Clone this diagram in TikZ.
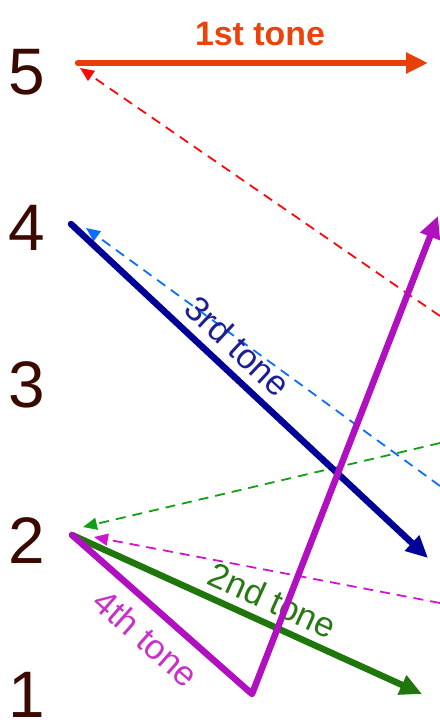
\documentclass[tikz,border=0pt]{standalone}
\usepackage{fontspec}
\setmainfont{Liberation Sans}
\usepackage{tikz}
\usetikzlibrary{arrows.meta}

\definecolor{numcol}{RGB}{58,10,0}
\definecolor{firstcol}{RGB}{232,62,10}
\definecolor{firsttext}{RGB}{234,68,12}
\definecolor{reddash}{RGB}{250,10,10}
\definecolor{bluecol}{RGB}{0,0,150}
\definecolor{bluetext}{RGB}{30,30,150}
\definecolor{bluedash}{RGB}{10,110,255}
\definecolor{greencol}{RGB}{30,118,12}
\definecolor{greentext}{RGB}{40,120,20}
\definecolor{greendash}{RGB}{20,160,20}
\definecolor{purplecol}{RGB}{176,16,192}
\definecolor{purpletext}{RGB}{200,50,200}
\definecolor{magdash}{RGB}{210,20,210}

\tikzset{
	levelnum/.style={text=numcol, font=\fontsize{66}{70}\selectfont, inner sep=0pt},
	toneline/.style={line width=6.5bp, line cap=round, line join=round,
		-{Triangle[length=22bp,width=20bp]}},
	echoline/.style={line width=1.8bp, dash pattern=on 10bp off 7bp,
		-{Triangle[length=14bp,width=12bp]}},
	tonelabel/.style={font=\fontsize{35}{38}\selectfont, inner sep=0pt}
}

\begin{document}
\begin{tikzpicture}[x=1bp,y=-1bp]
	
	\useasboundingbox (0,0) rectangle (440,723);
	
	% pitch levels
	\node[levelnum] (L5) at (27,72) {5};
	\node[levelnum] (L4) at (27,228) {4};
	\node[levelnum] (L3) at (27,385) {3};
	\node[levelnum] (L2) at (27,541) {2};
	\node[levelnum] (L1) at (27,695) {1};
	
	% end points of the contours
	\coordinate (F0) at (78,63);
	\coordinate (F1) at (428,63);
	\coordinate (T0) at (71,224);
	\coordinate (T1) at (428,558);
	\coordinate (S0) at (72,535);
	\coordinate (S1) at (422,694);
	\coordinate (Q1) at (252,694);
	\coordinate (Q2) at (438,216);
	
	% dashed returns
	\coordinate (Rr) at (440,316);
	\coordinate (Rl) at (80,68);
	\coordinate (Br) at (440,486);
	\coordinate (Bl) at (86,228);
	\coordinate (Gr) at (440,443);
	\coordinate (Gl) at (83,527);
	\coordinate (Mr) at (440,603);
	\coordinate (Ml) at (94,537);
	
	\draw[echoline,reddash] (Rr) -- (Rl);
	\draw[echoline,bluedash] (Br) -- (Bl);
	\draw[echoline,greendash] (Gr) -- (Gl);
	\draw[echoline,magdash] (Mr) -- (Ml);
	
	% tones
	\draw[toneline,bluecol]
	(T0) -- node[tonelabel,sloped,above=9bp,pos=0.42,text=bluetext]{3rd tone} (T1);
	
	\draw[toneline,greencol]
	(S0) -- node[tonelabel,sloped,above=8bp,pos=0.545,text=greentext]{2nd tone} (S1);
	
	\draw[toneline,purplecol]
	(S0) -- node[tonelabel,sloped,below=12bp,pos=0.516,text=purpletext]{4th tone} (Q1) -- (Q2);
	
	\draw[toneline,firstcol]
	(F0) -- node[tonelabel,above=14bp,pos=0.52,text=firsttext,font=\fontsize{34}{38}\selectfont\bfseries]{1st tone} (F1);
	
\end{tikzpicture}
\end{document}
